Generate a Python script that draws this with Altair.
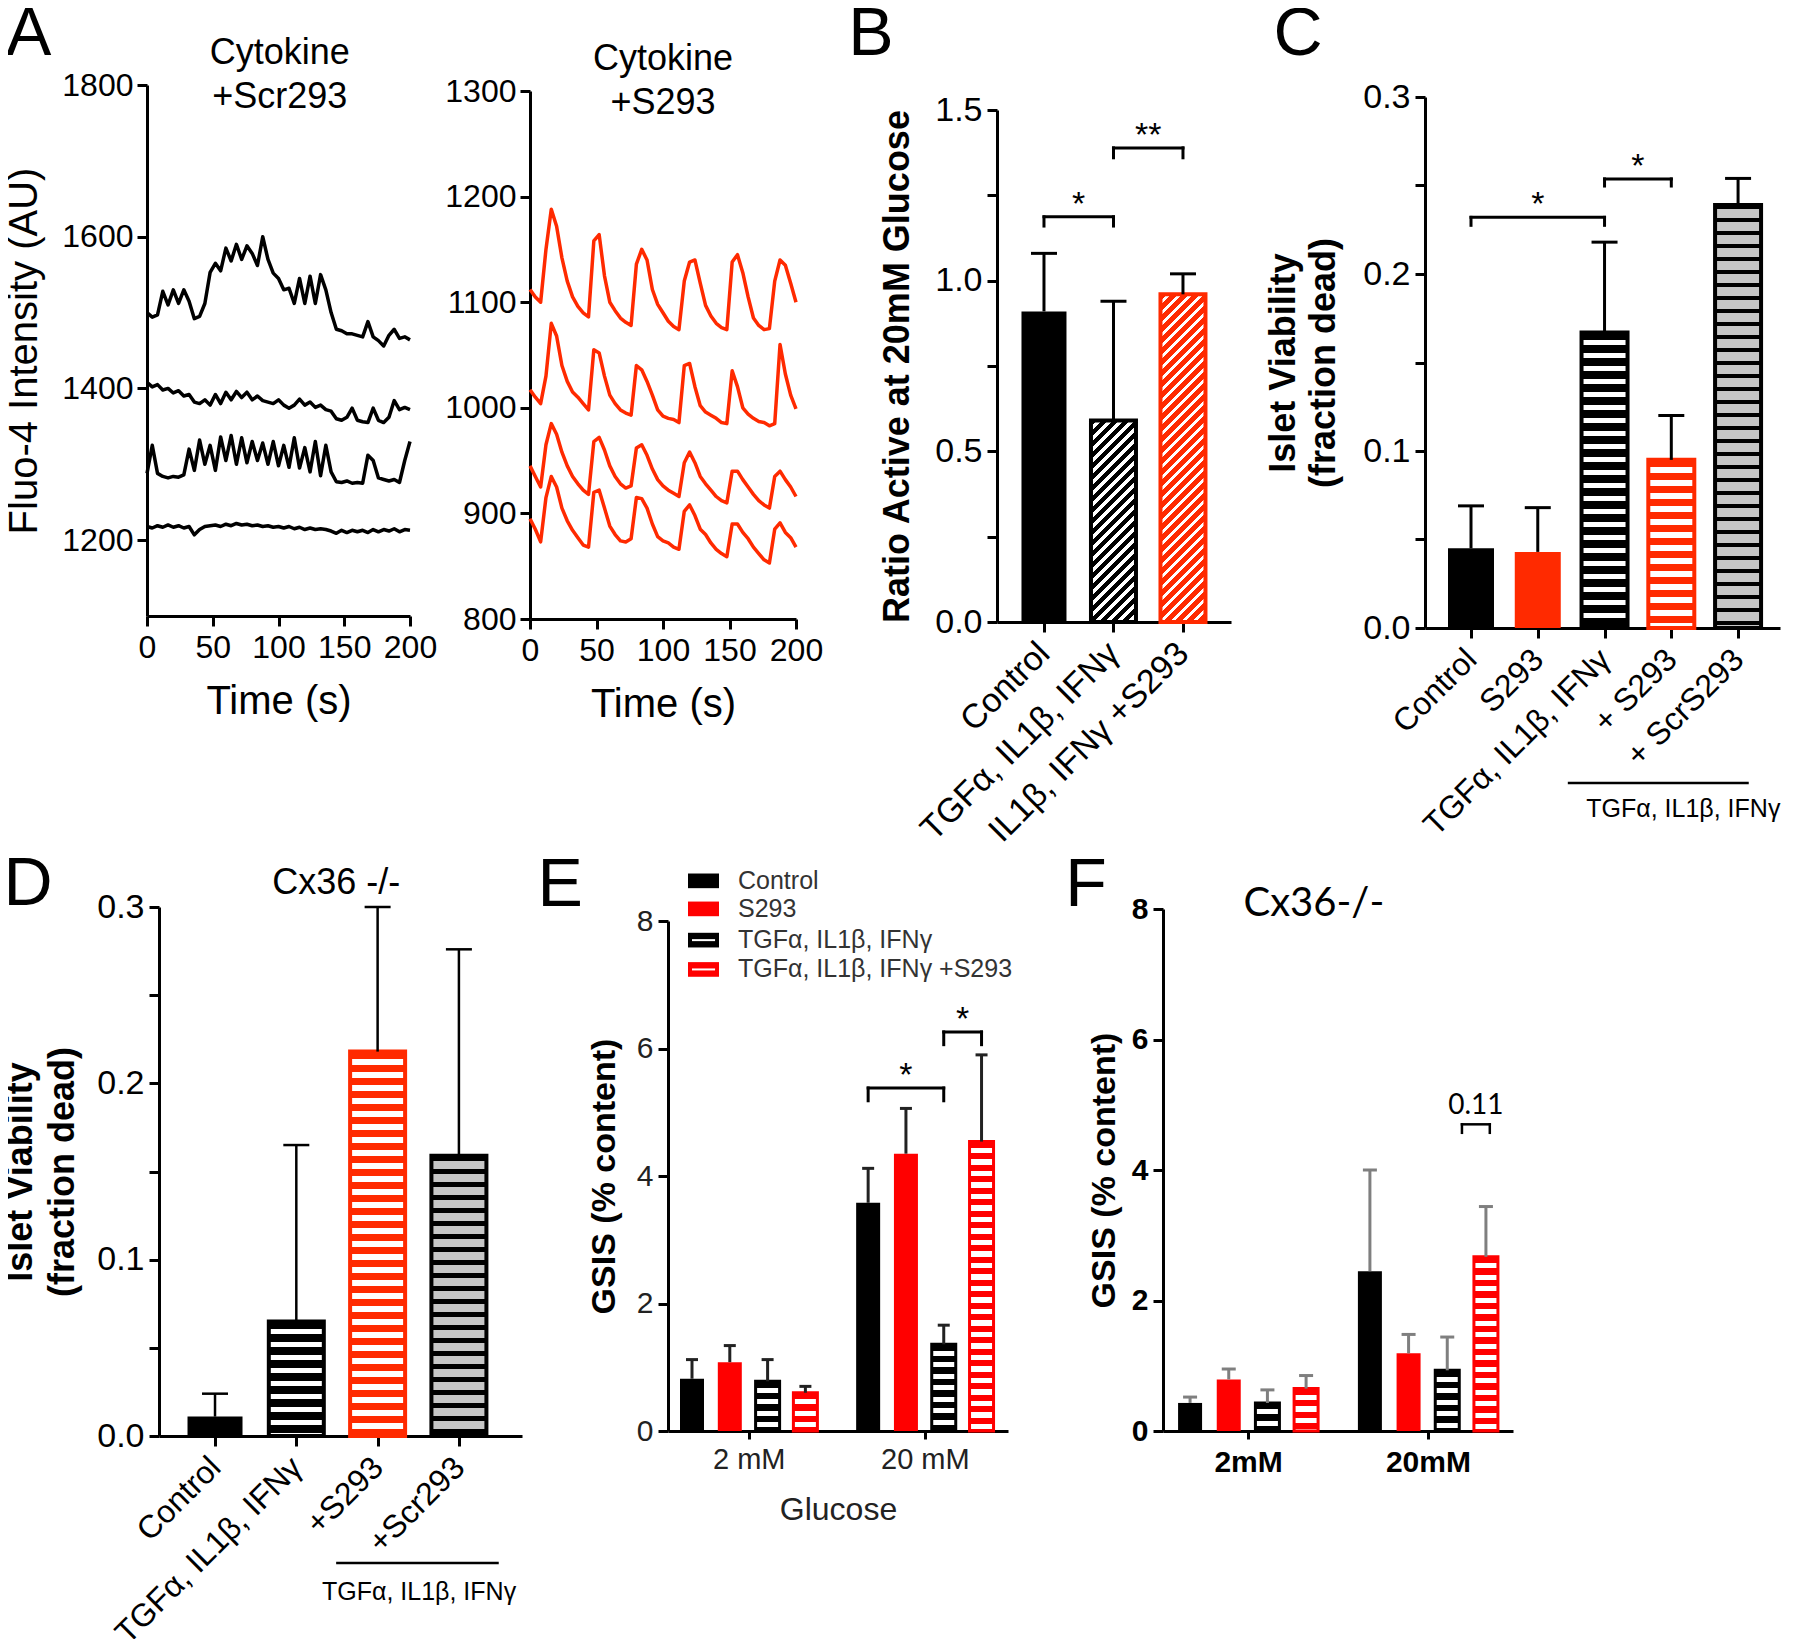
import json
import altair as alt
import pandas as pd

FONT = "Liberation Sans"
FONT_CAL = "Lato"
BLACK = "#000000"
RED_A = "#ff2a00"
RED_E = "#ff0000"
GREY = "#c6c6c6"
WHITE = "#ffffff"

# ---------------- Panel A : Fluo-4 traces ----------------
time_s = list(range(0, 201, 4))
scr293_trace1 = [1500, 1494, 1497, 1528, 1510, 1530, 1512, 1530, 1515, 1492, 1495, 1512, 1553, 1565, 1555, 1585,
                 1568, 1590, 1570, 1588, 1578, 1562, 1600, 1570, 1552, 1545, 1530, 1532, 1512, 1545, 1512, 1548,
                 1512, 1550, 1530, 1500, 1478, 1476, 1472, 1472, 1470, 1468, 1488, 1468, 1463, 1456, 1470, 1478,
                 1466, 1468, 1464]
scr293_trace2 = [1408, 1402, 1405, 1398, 1400, 1394, 1397, 1390, 1392, 1382, 1380, 1385, 1378, 1392, 1380, 1395,
                 1385, 1396, 1388, 1395, 1385, 1390, 1384, 1382, 1380, 1385, 1378, 1374, 1378, 1386, 1378, 1382,
                 1375, 1378, 1372, 1370, 1360, 1358, 1362, 1374, 1358, 1356, 1355, 1374, 1358, 1355, 1362, 1384,
                 1372, 1375, 1372]
scr293_trace3 = [1288, 1325, 1288, 1284, 1282, 1284, 1283, 1286, 1320, 1292, 1332, 1300, 1325, 1292, 1336, 1305,
                 1338, 1300, 1335, 1302, 1330, 1305, 1328, 1300, 1330, 1298, 1325, 1296, 1335, 1295, 1322, 1290,
                 1330, 1285, 1325, 1290, 1277, 1276, 1278, 1275, 1276, 1275, 1312, 1305, 1282, 1280, 1278, 1280,
                 1276, 1305, 1330]
scr293_trace4 = [1218, 1216, 1219, 1217, 1220, 1217, 1219, 1216, 1218, 1207, 1214, 1218, 1219, 1220, 1218, 1221,
                 1219, 1222, 1220, 1221, 1219, 1220, 1218, 1219, 1217, 1218, 1216, 1218, 1215, 1217, 1214, 1216,
                 1214, 1215, 1214, 1212, 1209, 1213, 1210, 1213, 1211, 1213, 1210, 1214, 1211, 1214, 1212, 1215,
                 1211, 1214, 1213]
s293_trace1 = [1112, 1105, 1100, 1150, 1188, 1172, 1142, 1120, 1105, 1096, 1090, 1086, 1158, 1164, 1125, 1100,
               1092, 1085, 1081, 1078, 1136, 1150, 1140, 1112, 1098, 1090, 1082, 1077, 1074, 1120, 1138, 1140,
               1118, 1097, 1087, 1080, 1076, 1074, 1138, 1145, 1128, 1105, 1085, 1078, 1074, 1075, 1120, 1140,
               1135, 1118, 1100]
s293_trace2 = [1017, 1010, 1004, 1030, 1080, 1068, 1040, 1025, 1015, 1010, 1004, 998, 1055, 1052, 1030, 1012,
               1004, 998, 995, 993, 1040, 1036, 1025, 1012, 998, 992, 990, 989, 986, 1040, 1042, 1020,
               1002, 996, 993, 990, 986, 985, 1035, 1020, 1000, 994, 990, 987, 986, 983, 985, 1060,
               1032, 1012, 999]
s293_trace3 = [945, 935, 925, 965, 985, 975, 958, 945, 935, 928, 922, 918, 968, 972, 960, 945,
               935, 928, 924, 926, 962, 965, 955, 942, 932, 926, 922, 919, 916, 948, 958, 948,
               935, 928, 922, 916, 912, 910, 940, 940, 932, 925, 918, 912, 908, 905, 935, 940,
               932, 925, 916]
s293_trace4 = [895, 885, 873, 915, 935, 925, 905, 893, 884, 877, 870, 868, 920, 922, 905, 888,
               880, 874, 873, 876, 915, 914, 905, 890, 878, 874, 872, 868, 866, 902, 908, 898,
               885, 880, 872, 866, 862, 859, 890, 890, 882, 876, 868, 862, 856, 853, 885, 891,
               882, 877, 868]

# ---------------- Panel B ----------------
b_labels = ["Control", "TGFα, IL1β, IFNγ", "IL1β, IFNγ +S293"]
b_mean = [0.91, 0.59, 0.96]
b_sem = [0.17, 0.35, 0.06]

# ---------------- Panel C ----------------
c_labels = ["Control", "S293", "TGFα, IL1β, IFNγ", "+ S293", "+ ScrS293"]
c_mean = [0.045, 0.043, 0.167, 0.095, 0.239]
c_sem = [0.024, 0.025, 0.051, 0.025, 0.015]

# ---------------- Panel D ----------------
d_labels = ["Control", "TGFα, IL1β, IFNγ", "+S293", "+Scr293"]
d_mean = [0.011, 0.065, 0.218, 0.159]
d_sem = [0.013, 0.100, 0.082, 0.117]

cytokine_label = "TGFα, IL1β, IFNγ"

# ---------------- Panel E ----------------
e_conditions = ["Control", "S293", "TGFα, IL1β, IFNγ", "TGFα, IL1β, IFNγ +S293"]
e_glucose = ["2 mM", "20 mM"]
e_mean_2 = [0.82, 1.08, 0.78, 0.60]
e_sem_2 = [0.30, 0.26, 0.34, 0.10]
e_mean_20 = [3.58, 4.35, 1.36, 4.54]
e_sem_20 = [0.54, 0.71, 0.30, 1.36]

# ---------------- Panel F ----------------
f_glucose = ["2mM", "20mM"]
f_mean_2 = [0.43, 0.79, 0.43, 0.65]
f_sem_2 = [0.09, 0.16, 0.20, 0.20]
f_mean_20 = [2.45, 1.19, 0.93, 2.67]
f_sem_20 = [1.55, 0.29, 0.51, 0.77]


# ====================== helpers ======================
def ax(values, title, lsize, tsize, **kw):
    base = dict(values=values, title=title, labelFont=FONT, titleFont=FONT, labelFontSize=lsize,
                titleFontSize=tsize, labelColor="black", titleColor="black", domainColor="black",
                tickColor="black", domainWidth=3, tickWidth=3, tickSize=10, grid=False,
                labelFlush=False, labelOverlap=False, labelBound=False, labelLimit=500)
    base.update(kw)
    return alt.Axis(**base)


def encs(xdom, xa, ydom, ya, h, yoff=0):
    xs = alt.Scale(domain=xdom, nice=False, zero=False, padding=0)
    if yoff:
        ys = alt.Scale(domain=ydom, nice=False, zero=False, padding=0, range=[h + yoff, yoff])
    else:
        ys = alt.Scale(domain=ydom, nice=False, zero=False, padding=0)
    return (lambda f: alt.X(f"{f}:Q", scale=xs, axis=xa)), (lambda f: alt.Y(f"{f}:Q", scale=ys, axis=ya))


def stops_for(base, stripe, length, period, frac):
    stops = []
    p = 0.0
    while p < length - 1e-6:
        a = round(p / length, 5)
        b = round(min((p + period * (1 - frac)) / length, 1.0), 5)
        c = round(min((p + period) / length, 1.0), 5)
        stops += [alt.GradientStop(offset=a, color=base), alt.GradientStop(offset=b, color=base),
                  alt.GradientStop(offset=b, color=stripe), alt.GradientStop(offset=c, color=stripe)]
        p += period
    return stops


def grad_h(base, stripe, hpx, period, frac):
    return alt.LinearGradient(gradient="linear", stops=stops_for(base, stripe, hpx, period, frac),
                              x1=0, y1=0, x2=0, y2=1)


def grad_d(base, stripe, w, hpx, period, frac):
    L = w + hpx
    den = w * w + hpx * hpx
    return alt.LinearGradient(gradient="linear", stops=stops_for(base, stripe, L, period, frac),
                              x1=0, y1=0, x2=round(w * L / den, 5), y2=round(hpx * L / den, 5))


def bar_layers(X, Y, positions, means, sems, styles, ydom, h, bw, err_color, err_w, cap_w,
               stroke_w=4, period=13):
    n = len(means)
    df = pd.DataFrame({"i": list(range(n)), "pos": positions, "mean": means,
                       "top": [m + s for m, s in zip(means, sems)]})
    layers = []
    for i, (kind, base, stripe, stroke, fr) in enumerate(styles):
        hp = (means[i] - ydom[0]) / (ydom[1] - ydom[0]) * h
        if kind == "solid":
            fill = base
        elif kind == "h":
            fill = grad_h(base, stripe, hp, period, fr)
        else:
            fill = grad_d(base, stripe, bw, hp, period, fr)
        props = dict(size=bw, fill=fill)
        if stroke:
            props.update(stroke=stroke, strokeWidth=stroke_w)
        layers.append(alt.Chart(df).transform_filter(f"datum.i == {i}").mark_bar(**props)
                      .encode(x=X("pos"), y=Y("mean")))
    layers.append(alt.Chart(df).mark_rule(color=err_color, strokeWidth=err_w)
                  .encode(x=X("pos"), y=Y("mean"), y2="top:Q"))
    layers.append(alt.Chart(df).mark_tick(orient="horizontal", size=cap_w, thickness=err_w,
                                          color=err_color, opacity=1)
                  .encode(x=X("pos"), y=Y("top")))
    return layers


def bracket(X, Y, x1, x2, y, ylow, label, font=FONT, size=34, dy=-2, sw=3):
    df = pd.DataFrame({"x1": [x1], "x2": [x2], "y": [y], "ylow": [ylow], "xm": [(x1 + x2) / 2], "t": [label]})
    rule = dict(color="black", strokeWidth=sw, strokeCap="square")
    return [
        alt.Chart(df).mark_rule(**rule).encode(x=X("x1"), x2="x2:Q", y=Y("y")),
        alt.Chart(df).mark_rule(**rule).encode(x=X("x1"), y=Y("y"), y2="ylow:Q"),
        alt.Chart(df).mark_rule(**rule).encode(x=X("x2"), y=Y("y"), y2="ylow:Q"),
        alt.Chart(df).mark_text(font=font, fontSize=size, baseline="alphabetic", align="center", dy=dy,
                                color="black").encode(x=X("xm"), y=Y("y"), text="t:N"),
    ]


def texts(X, Y, xs, ys, labels, size, font=FONT, weight="normal", align="center", baseline="middle",
          color="black"):
    df = pd.DataFrame({"x": xs, "y": ys, "t": labels})
    return alt.Chart(df).mark_text(font=font, fontSize=size, fontWeight=weight, align=align,
                                   baseline=baseline, color=color).encode(x=X("x"), y=Y("y"), text="t:N")


def spacer(w, h):
    return alt.Chart(pd.DataFrame({"s": [0]})).mark_point(opacity=0).encode(
        x=alt.X("s:Q", axis=None), y=alt.Y("s:Q", axis=None)).properties(width=w, height=h)


def label_expr(labels):
    return json.dumps(labels, ensure_ascii=False) + "[round(datum.value)]"


# ====================== Panel A (left) ======================
xaA = ax([0, 50, 100, 150, 200], "Time (s)", 32, 40, labelPadding=6, titlePadding=18, titleFontWeight="normal",
         format="d")
yaAL = ax([1200, 1400, 1600, 1800], "Fluo-4 Intensity (AU)", 32, 40, labelPadding=4, titlePadding=18,
          minExtent=85, maxExtent=85, titleFontWeight="normal", format="d")
XAL, YAL = encs([0, 200], xaA, [1100, 1800], yaAL, 531)
rows = []
for k, tr in enumerate([scr293_trace1, scr293_trace2, scr293_trace3, scr293_trace4]):
    rows += [{"t": t, "v": v, "trace": k} for t, v in zip(time_s, tr)]
dfAL = pd.DataFrame(rows)
panelAL = alt.layer(
    alt.Chart(dfAL).mark_line(color=BLACK, strokeWidth=3.5, strokeJoin="round").encode(
        x=XAL("t"), y=YAL("v"), detail="trace:N"),
    texts(XAL, YAL, [101, 101], [1842, 1784], ["Cytokine", "+Scr293"], 36),
    texts(XAL, YAL, [-90], [1866], ["A"], 68),
).properties(width=263, height=531)

# ====================== Panel A (right) ======================
yaAR = ax([800, 900, 1000, 1100, 1200, 1300], "", 32, 10, labelPadding=4, format="d")
XAR, YAR = encs([0, 200], xaA, [800, 1300], yaAR, 528, 6)
rows = []
for k, tr in enumerate([s293_trace1, s293_trace2, s293_trace3, s293_trace4]):
    rows += [{"t": t, "v": v, "trace": k} for t, v in zip(time_s, tr)]
dfAR = pd.DataFrame(rows)
panelAR = alt.layer(
    alt.Chart(dfAR).mark_line(color=RED_A, strokeWidth=3.5, strokeJoin="round").encode(
        x=XAR("t"), y=YAR("v"), detail="trace:N"),
    texts(XAR, YAR, [100, 100], [1330, 1289], ["Cytokine", "+S293"], 36),
).properties(width=266, height=534)

# ====================== Panel B ======================
xaB = ax([0, 1, 2], "", 34, 10, labelExpr=label_expr(b_labels), labelAngle=-45, labelAlign="right",
         labelBaseline="middle", labelPadding=16)
yaB = ax([0, 0.25, 0.5, 0.75, 1.0, 1.25, 1.5], "Ratio Active at 20mM Glucose", 34, 36,
         labelExpr="round(datum.value*100) % 50 == 0 ? format(datum.value, '.1f') : ''",
         labelPadding=5, titlePadding=19, minExtent=62, maxExtent=62, titleFontWeight="bold")
XB, YB = encs([-0.676, 2.691], xaB, [0, 1.5], yaB, 512, 25)
b_styles = [("solid", BLACK, None, None, 0), ("d", BLACK, WHITE, BLACK, 0.42), ("d", RED_A, WHITE, RED_A, 0.42)]
panelB = alt.layer(
    *bar_layers(XB, YB, [0, 1, 2], b_mean, b_sem, b_styles, [0, 1.5], 512, 45, BLACK, 3, 26, period=11),
    *bracket(XB, YB, 0, 1, 1.187, 1.160, "*"),
    *bracket(XB, YB, 1, 2, 1.389, 1.360, "**"),
    texts(XB, YB, [-2.49], [1.719], ["B"], 68),
).properties(width=234, height=537)

# ====================== Panel C ======================
xaC = ax([0, 1, 2, 3, 4], "", 32, 10, labelExpr=label_expr(c_labels), labelAngle=-45, labelAlign="right",
         labelBaseline="middle", labelPadding=16)
yaC = ax([0, 0.05, 0.1, 0.15, 0.2, 0.25, 0.3], ["Islet Viability", "(fraction dead)"], 34, 36,
         labelExpr="round(datum.value*100) % 10 == 0 ? format(datum.value, '.1f') : ''",
         labelPadding=5, titlePadding=21, minExtent=62, maxExtent=62, titleFontWeight="bold",
         titleLineHeight=40)
XC, YC = encs([-0.689, 4.628], xaC, [0, 0.3], yaC, 531, 12)
c_styles = [("solid", BLACK, None, None, 0), ("solid", RED_A, None, None, 0),
            ("h", BLACK, WHITE, BLACK, 0.45), ("h", RED_A, WHITE, RED_A, 0.45), ("h", BLACK, GREY, BLACK, 0.68)]
grpC = pd.DataFrame({"x1": [1.45], "x2": [4.16], "y": [-0.0876]})
panelC = alt.layer(
    *bar_layers(XC, YC, [0, 1, 2, 3, 4], c_mean, c_sem, c_styles, [0, 0.3], 531, 46, BLACK, 3, 26),
    *bracket(XC, YC, 0, 2, 0.232, 0.2275, "*"),
    *bracket(XC, YC, 2, 3, 0.2537, 0.2497, "*"),
    alt.Chart(grpC).mark_rule(color="black", strokeWidth=2.5).encode(x=XC("x1"), x2="x2:Q", y=YC("y")),
    texts(XC, YC, [3.18], [-0.1025], [cytokine_label], 25),
    texts(XC, YC, [-2.59], [0.3352], ["C"], 68),
).properties(width=355, height=543)

# ====================== Panel D ======================
xaD = ax([0, 1, 2, 3], "", 32, 10, labelExpr=label_expr(d_labels), labelAngle=-45, labelAlign="right",
         labelBaseline="middle", labelPadding=16)
yaD = ax([0, 0.05, 0.1, 0.15, 0.2, 0.25, 0.3], ["Islet Viability", "(fraction dead)"], 34, 36,
         labelExpr="round(datum.value*100) % 10 == 0 ? format(datum.value, '.1f') : ''",
         labelPadding=5, titlePadding=16, minExtent=62, maxExtent=62, titleFontWeight="bold",
         titleLineHeight=42)
XD, YD = encs([-0.689, 3.776], xaD, [0, 0.3], yaD, 529)
d_styles = [("solid", BLACK, None, None, 0), ("h", BLACK, WHITE, BLACK, 0.45),
            ("h", RED_A, WHITE, RED_A, 0.45), ("h", BLACK, GREY, BLACK, 0.62)]
grpD = pd.DataFrame({"x1": [1.49], "x2": [3.49], "y": [-0.072]})
panelD = alt.layer(
    *bar_layers(XD, YD, [0, 1, 2, 3], d_mean, d_sem, d_styles, [0, 0.3], 529, 55, BLACK, 2.5, 26),
    alt.Chart(grpD).mark_rule(color="black", strokeWidth=2.5).encode(x=XD("x1"), x2="x2:Q", y=YD("y")),
    texts(XD, YD, [2.51], [-0.0887], [cytokine_label], 25),
    texts(XD, YD, [1.49], [0.3134], ["Cx36 -/-"], 36),
    texts(XD, YD, [-2.30], [0.3122], ["D"], 68),
).properties(width=363, height=529)

# ====================== Panel E ======================
gap = 4.66
pos8 = [0, 1, 2, 3] + [gap + i for i in range(4)]
centers = [1.5, gap + 1.5]
xaE = ax(centers, "Glucose", 29, 32, labelExpr=f"datum.value < 4 ? '{e_glucose[0]}' : '{e_glucose[1]}'",
         labelPadding=6, titlePadding=20, tickSize=8, titleFontWeight="normal", labelColor="#222",
         titleColor="#222")
yaE = ax([0, 2, 4, 6, 8], "GSIS (% content)", 30, 34, labelPadding=5, titlePadding=15, minExtent=32,
         maxExtent=32, titleFontWeight="bold", labelColor="#222")
XE, YE = encs([-0.635, 8.36], xaE, [0, 8], yaE, 510, 14)
e_sty4 = [("solid", BLACK, None, None, 0), ("solid", RED_E, None, None, 0),
          ("h", BLACK, WHITE, BLACK, 0.45), ("h", RED_E, WHITE, RED_E, 0.45)]
leg_y = [8.63, 8.19, 7.70, 7.24]
leg = pd.DataFrame({"x1": [-0.106] * 4, "x2": [0.714] * 4, "y1": [v - 0.115 for v in leg_y],
                    "y2": [v + 0.115 for v in leg_y], "y": leg_y, "c": [BLACK, RED_E, BLACK, RED_E],
                    "striped": [0, 0, 1, 1]})
leg_lines = leg[leg.striped == 1].assign(x1=0.0, x2=0.61)
panelE = alt.layer(
    *bar_layers(XE, YE, pos8, e_mean_2 + e_mean_20, e_sem_2 + e_sem_20, e_sty4 + e_sty4, [0, 8], 510, 24,
                "#222", 3, 12, stroke_w=3, period=11.5),
    *bracket(XE, YE, gap, gap + 2, 5.38, 5.18, "*"),
    *bracket(XE, YE, gap + 2, gap + 3, 6.26, 6.06, "*"),
    alt.Chart(leg).mark_rect().encode(x=XE("x1"), x2="x2:Q", y=YE("y1"), y2="y2:Q",
                                       color=alt.Color("c:N", scale=None)),
    alt.Chart(leg_lines).mark_rule(color=WHITE, strokeWidth=2).encode(x=XE("x1"), x2="x2:Q", y=YE("y")),
    texts(XE, YE, [1.217] * 4, leg_y, e_conditions, 25, align="left", color="#333"),
    texts(XE, YE, [-3.49], [8.55], ["E"], 68),
).properties(width=340, height=524)

# ====================== Panel F ======================
gapF = 4.65
pos8F = [0, 1, 2, 3] + [gapF + i for i in range(4)]
xaF = ax([1.5, gapF + 1.5], "", 30, 10, labelExpr=f"datum.value < 4 ? '{f_glucose[0]}' : '{f_glucose[1]}'",
         labelPadding=8, tickSize=8, labelFontWeight="bold")
yaF = ax([0, 2, 4, 6, 8], "GSIS (% content)", 30, 34, labelPadding=5, titlePadding=10, minExtent=32,
         maxExtent=32, titleFontWeight="bold", labelFontWeight="bold")
XF, YF = encs([-0.70, 8.35], xaF, [0, 8], yaF, 522, 2)
f_sty4 = [("solid", BLACK, None, None, 0), ("solid", RED_E, None, None, 0),
          ("h", BLACK, WHITE, BLACK, 0.45), ("h", RED_E, WHITE, RED_E, 0.45)]
panelF = alt.layer(
    *bar_layers(XF, YF, pos8F, f_mean_2 + f_mean_20, f_sem_2 + f_sem_20, f_sty4 + f_sty4, [0, 8], 522, 24,
                "#7f7f7f", 3, 14, stroke_w=3, period=11.5),
    *bracket(XF, YF, 7.03, 7.75, 4.70, 4.57, "0.11", font=FONT_CAL, size=28, dy=-10, sw=2.5),
    texts(XF, YF, [3.2], [8.08], ["Cx36-/-"], 40, font=FONT_CAL),
    texts(XF, YF, [-2.69], [8.35], ["F"], 68),
).properties(width=350, height=524)

# ====================== layout ======================
row1 = alt.hconcat(panelAL, spacer(120, 1), panelAR, spacer(201, 1), panelB, spacer(194, 1), panelC,
                   spacing=0, bounds="flush")
row2 = alt.hconcat(spacer(12, 1), panelD, spacer(146, 1), panelE, spacer(155, 1), panelF,
                   spacing=0, bounds="flush")

chart = alt.vconcat(row1, row2, spacing=2).properties(
    padding={"left": -6, "top": -8, "right": 0, "bottom": 0}, background="white"
).configure(font=FONT).configure_view(strokeWidth=0, strokeOpacity=0)

chart.save("out.html", embed_options={"renderer": "svg", "actions": False})
